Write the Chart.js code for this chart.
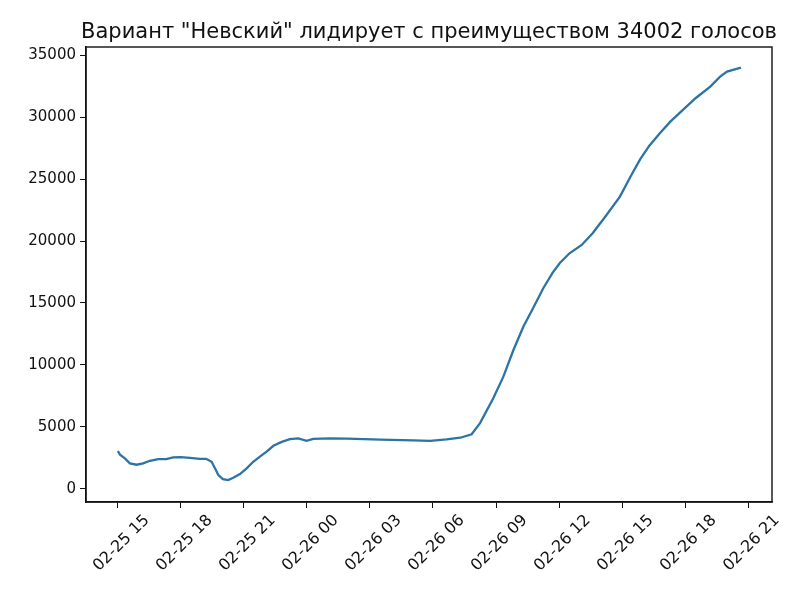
<!DOCTYPE html>
<html>
<head>
<meta charset="utf-8">
<script src="https://cdn.jsdelivr.net/npm/chart.js@4.4.1/dist/chart.umd.min.js"></script>
<style>
  html, body { margin: 0; padding: 0; background: #fff; }
  #wrap { width: 800px; height: 600px; }
</style>
</head>
<body>
<div id="wrap"><canvas id="leadChart" width="800" height="600"></canvas></div>
<script>
const TITLE = 'Вариант "Невский" лидирует с преимуществом 34002 голосов';

// hours after 02-25 15:00
const hoursSinceStart = [
    0.0, 0.1, 0.33, 0.57, 0.89, 1.2, 1.52, 1.92, 2.3, 2.63, 3.0, 3.43, 3.9, 4.2,
    4.46, 4.62, 4.78, 5.0, 5.25, 5.49, 5.81, 6.13, 6.44, 6.76, 7.08, 7.4, 7.8,
    8.19, 8.59, 8.98, 9.3, 10.1, 10.9, 12.5, 14.06, 14.86, 15.65, 16.3, 16.84,
    17.24, 17.87, 18.35, 18.83, 19.3, 19.8, 20.25, 20.7, 21.05, 21.5, 22.08,
    22.6, 23.2, 23.9, 24.4, 24.86, 25.3, 25.8, 26.3, 26.9, 27.5, 28.2, 28.67,
    29.0, 29.66
];

// vote lead
const leadVotes = [
    3050, 2750, 2450, 2050, 1940, 2050, 2260, 2400, 2400, 2530, 2560, 2500, 2420, 2420,
    2180, 1650, 1100, 780, 700, 890, 1190, 1650, 2180, 2590, 2990, 3470, 3780,
    4000, 4070, 3870, 4020, 4060, 4040, 3960, 3910, 3860, 3980, 4120, 4400,
    5300, 7300, 9050, 11200, 13085, 14700, 16190, 17450, 18250, 19015, 19685,
    20630, 21970, 23590, 25200, 26600, 27700, 28700, 29645, 30590, 31535, 32470, 33280,
    33680, 34002
];

const tickHours = [0, 3, 6, 9, 12, 15, 18, 21, 24, 27, 30];
const tickLabels = [
    '02-25 15', '02-25 18', '02-25 21', '02-26 00', '02-26 03', '02-26 06',
    '02-26 09', '02-26 12', '02-26 15', '02-26 18', '02-26 21'
];
const yTicks = [0, 5000, 10000, 15000, 20000, 25000, 30000, 35000];

const FONT = 'DejaVu Sans';

// frame around the plot + title centred over it
const framePlugin = {
    id: 'frame',
    afterDraw(chart) {
        const { ctx, chartArea: a } = chart;
        ctx.save();
        ctx.strokeStyle = '#111';
        ctx.lineWidth = 1.4;
        ctx.strokeRect(a.left, a.top, a.right - a.left, a.bottom - a.top);
        ctx.fillStyle = '#111';
        ctx.font = '21px "' + FONT + '"';
        ctx.textAlign = 'center';
        ctx.textBaseline = 'alphabetic';
        ctx.fillText(TITLE, (a.left + a.right) / 2, 38);
        ctx.restore();
    }
};

new Chart(document.getElementById('leadChart'), {
    type: 'line',
    data: {
        datasets: [{
            data: hoursSinceStart.map((h, i) => ({ x: h, y: leadVotes[i] })),
            borderColor: '#2b74a4',
            borderWidth: 2.3,
            pointRadius: 0,
            tension: 0,
            fill: false
        }]
    },
    options: {
        responsive: false,
        animation: false,
        devicePixelRatio: 1,
        layout: { padding: { top: 47, right: 28, left: 0, bottom: 0 } },
        plugins: {
            legend: { display: false },
            title: { display: false },
            tooltip: { enabled: false }
        },
        scales: {
            x: {
                type: 'linear',
                min: -1.52,
                max: 31.14,
                afterBuildTicks: scale => { scale.ticks = tickHours.map(v => ({ value: v })); },
                afterFit: scale => { scale.height = 98; },
                grid: { display: true, drawOnChartArea: false, drawTicks: true, tickLength: 6, color: '#111' },
                border: { display: true, color: '#111', width: 1.4 },
                ticks: {
                    autoSkip: false,
                    maxRotation: 45,
                    minRotation: 45,
                    labelOffset: 29,
                    padding: 3,
                    color: '#111',
                    font: { family: FONT, size: 16 },
                    callback: value => tickLabels[tickHours.indexOf(value)]
                }
            },
            y: {
                min: -1070,
                max: 35672,
                afterBuildTicks: scale => { scale.ticks = yTicks.map(v => ({ value: v })); },
                afterFit: scale => { scale.width = 86; },
                grid: { display: true, drawOnChartArea: false, drawTicks: true, tickLength: 6, color: '#111' },
                border: { display: true, color: '#111', width: 1.4 },
                ticks: {
                    padding: 4,
                    color: '#111',
                    font: { family: FONT, size: 15 },
                    callback: value => String(value)
                }
            }
        }
    },
    plugins: [framePlugin]
});
</script>
</body>
</html>
